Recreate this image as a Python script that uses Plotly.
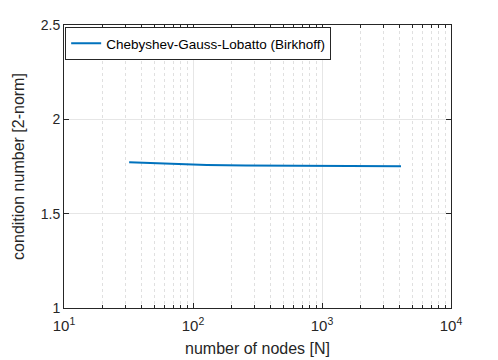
import plotly.graph_objects as go

nodes = [32, 64, 128, 256, 512, 1024, 2048, 4096]
cond_number = [1.772, 1.764, 1.758, 1.755, 1.753, 1.752, 1.751, 1.751]
x_tickvals = [10, 100, 1000, 10000]
x_ticktext = ["10<sup>1</sup>", "10<sup>2</sup>", "10<sup>3</sup>", "10<sup>4</sup>"]
x_minor_tickvals = [m * 10 ** k for k in (1, 2, 3) for m in range(2, 10)]
y_tickvals = [1, 1.5, 2, 2.5]
y_ticktext = ["1", "1.5", "2", "2.5"]

fig = go.Figure()
fig.add_trace(go.Scatter(
    x=nodes, y=cond_number, mode="lines",
    name="Chebyshev-Gauss-Lobatto (Birkhoff)",
    line=dict(color="#0072BD", width=2),
))

font = "Liberation Sans, Arial, Helvetica, sans-serif"
fig.update_layout(
    width=490, height=352,
    margin=dict(l=56, r=47, t=17, b=52),
    paper_bgcolor="white", plot_bgcolor="white",
    font=dict(family=font, size=13, color="#262626"),
    showlegend=True,
    legend=dict(
        x=0.003, y=0.993, xanchor="left", yanchor="top",
        bordercolor="#262626", borderwidth=1, bgcolor="white",
        font=dict(size=13.5, color="black"),
        itemwidth=30, tracegroupgap=0,
    ),
)
fig.update_xaxes(
    type="log", range=[1, 4], automargin=False,
    tickmode="array", tickvals=x_tickvals, ticktext=x_ticktext,
    ticks="inside", ticklen=5, tickcolor="#262626",
    ticklabelstandoff=4,
    showline=True, linecolor="#262626", linewidth=1, mirror="ticks",
    showgrid=True, gridcolor="#e6e6e6", gridwidth=1,
    minor=dict(tickmode="array", tickvals=x_minor_tickvals,
               ticks="inside", ticklen=3, tickcolor="#262626",
               showgrid=True, gridcolor="#e0e0e0", griddash="dot", gridwidth=1),
    tickfont=dict(size=15),
    title=dict(text="number of nodes [N]", font=dict(size=16), standoff=9),
    zeroline=False,
)
fig.update_yaxes(
    range=[1, 2.5], automargin=False,
    tickmode="array", tickvals=y_tickvals, ticktext=y_ticktext,
    ticks="inside", ticklen=5, tickcolor="#262626",
    showline=True, linecolor="#262626", linewidth=1, mirror="ticks",
    showgrid=True, gridcolor="#e6e6e6", gridwidth=1,
    tickfont=dict(size=14),
    title=dict(text="condition number [2-norm]", font=dict(size=16), standoff=12),
    zeroline=False,
)

fig.write_html("out.html")
